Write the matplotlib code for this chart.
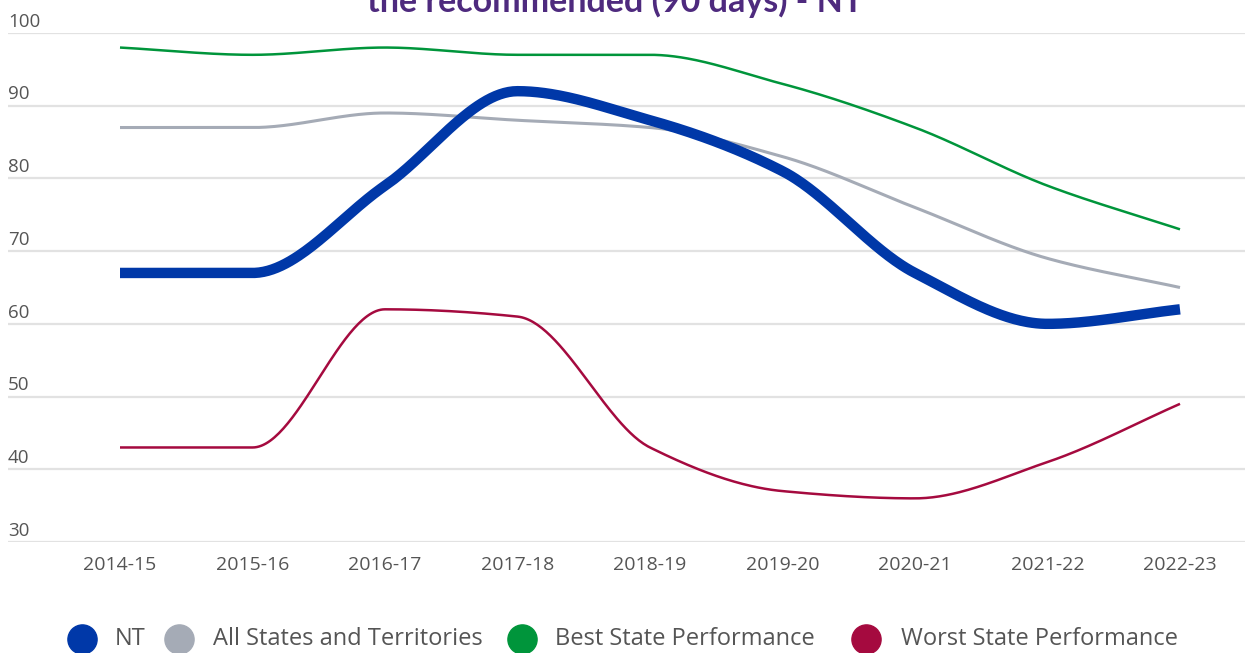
import numpy as np
import matplotlib
matplotlib.use("Agg")
import matplotlib.pyplot as plt
from matplotlib.lines import Line2D
from matplotlib.transforms import blended_transform_factory

years = ["2014-15", "2015-16", "2016-17", "2017-18", "2018-19",
         "2019-20", "2020-21", "2021-22", "2022-23"]
nt = [67, 67, 79, 92, 88, 81, 67, 60, 62]
all_states = [87, 87, 89, 88, 87, 83, 76, 69, 65]
best_state = [98, 97, 98, 97, 97, 93, 87, 79, 73]
worst_state = [43, 43, 62, 61, 43, 37, 36, 41, 49]
y_ticks = [30, 40, 50, 60, 70, 80, 90, 100]
title = "the recommended (90 days) - NT"

series = [
    ("NT", nt, "#0038A8", 7.5),
    ("All States and Territories", all_states, "#A5ABB6", 2.2),
    ("Best State Performance", best_state, "#00953B", 1.8),
    ("Worst State Performance", worst_state, "#A50A3F", 1.8),
]


def monotone_curve(y, n=60):
    """Fritsch-Carlson monotone cubic through equally spaced points."""
    y = np.asarray(y, float)
    x = np.arange(len(y), dtype=float)
    d = np.diff(y)
    m = np.zeros_like(y)
    m[0], m[-1] = d[0], d[-1]
    for i in range(1, len(y) - 1):
        if d[i - 1] * d[i] <= 0:
            m[i] = 0.0
        else:
            m[i] = 2.0 / (1.0 / d[i - 1] + 1.0 / d[i])
    xs, ys = [], []
    for i in range(len(y) - 1):
        t = np.linspace(0, 1, n, endpoint=(i == len(y) - 2))
        h00 = 2 * t**3 - 3 * t**2 + 1
        h10 = t**3 - 2 * t**2 + t
        h01 = -2 * t**3 + 3 * t**2
        h11 = t**3 - t**2
        xs.append(x[i] + t)
        ys.append(h00 * y[i] + h10 * m[i] + h01 * y[i + 1] + h11 * m[i + 1])
    return np.concatenate(xs), np.concatenate(ys)


W, H = 1245, 653
fig = plt.figure(figsize=(W / 100, H / 100), dpi=100)
ax = fig.add_axes([8 / W, 1 - 542 / H, 1 - 8 / W, (542 - 33) / H])

px_per = 132.5
ax.set_xlim(-(120 - 8) / px_per, (1245 - 120) / px_per)
ax.set_ylim(30, 100)

for v in y_ticks:
    ax.axhline(v, color="#E2E2E2", lw=1.6, zorder=0)

for name, vals, color, lw in reversed(series):
    xs, ys = monotone_curve(vals)
    ax.plot(xs, ys, color=color, lw=lw, solid_capstyle="butt", clip_on=False,
            zorder=3 if name == "NT" else 2)

ax.set_yticks([])
ax.set_xticks(range(len(years)))
ax.set_xticklabels(years, fontsize=14, color="#555555", family="Open Sans")
ax.tick_params(axis="x", length=0, pad=10)
for s in ax.spines.values():
    s.set_visible(False)

tr = blended_transform_factory(ax.transAxes, ax.transData)
for v in y_ticks:
    ax.annotate(str(v), xy=(0.0, v), xycoords=tr, xytext=(0, 4.5),
                textcoords="offset points", ha="left", va="baseline",
                fontsize=13.5, color="#555555", family="Open Sans",
                annotation_clip=False)

fig.text(615 / W, 1 - 12 / H, title, ha="center", va="baseline",
         fontsize=24.5, fontweight="bold", color="#4E2A7E", family="Lato")

legend_pos = [(81.5, 115), (178.5, 213), (522, 555), (866, 901)]
for (cx, tx), (name, vals, color, lw) in zip(legend_pos, series):
    fig.add_artist(Line2D([cx / W], [1 - 639 / H], marker="o", markersize=21,
                          color=color, transform=fig.transFigure, lw=0))
    fig.text(tx / W, 1 - 639 / H, name, ha="left", va="center",
             fontsize=17, color="#555555", family="Open Sans")

fig.savefig("out.png", dpi=100)
